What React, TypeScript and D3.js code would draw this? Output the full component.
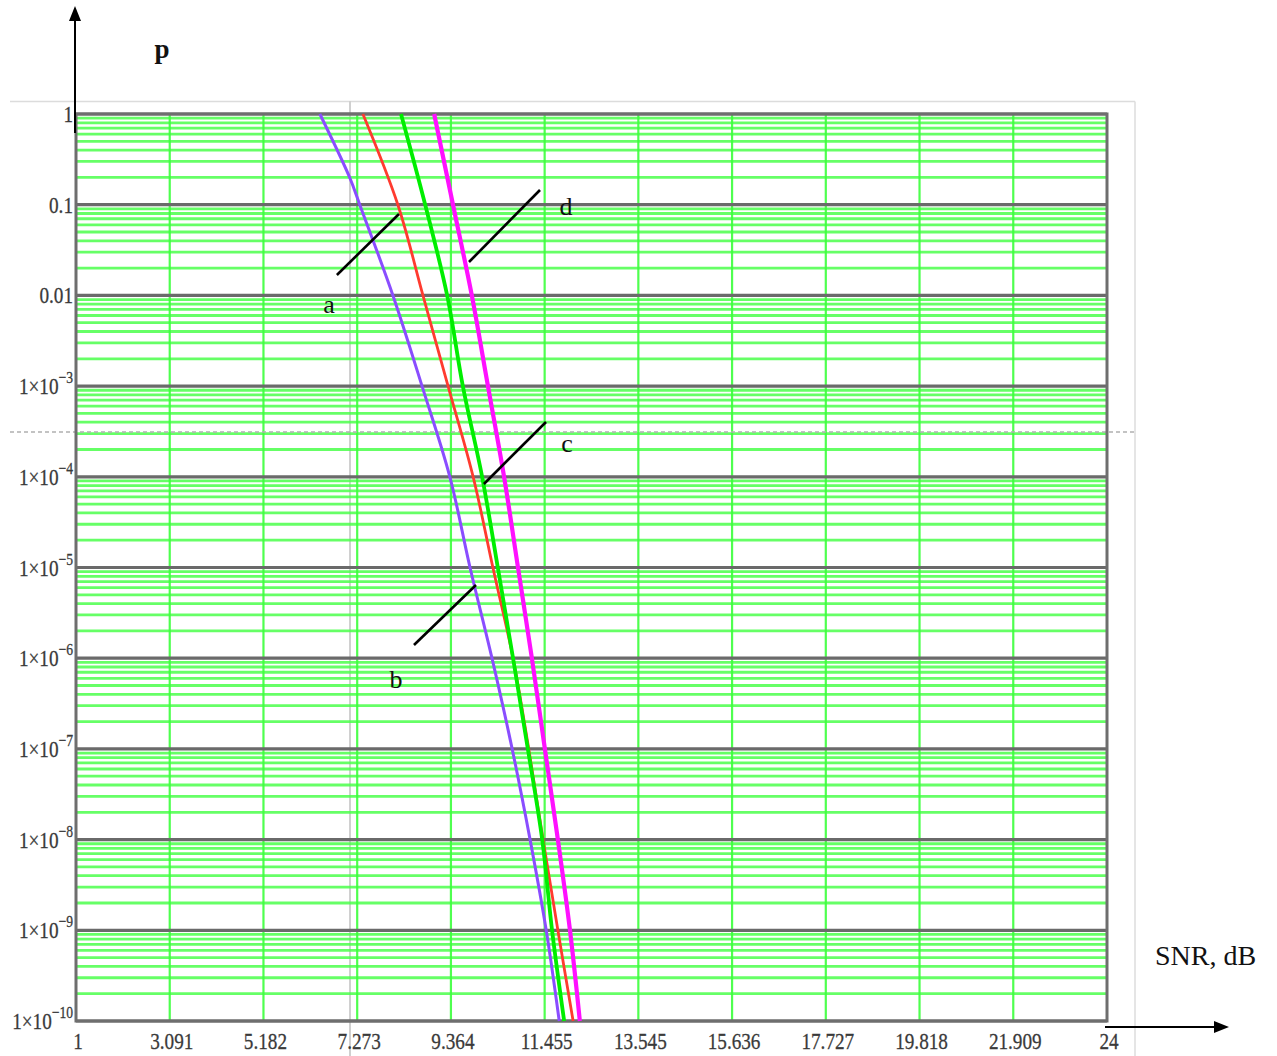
import React from "react";
import * as d3 from "d3";

// ---- data ----
const xTickValues = [1, 3.091, 5.182, 7.273, 9.364, 11.455, 13.545, 15.636, 17.727, 19.818, 21.909, 24];
const xTickLabels = ["1", "3.091", "5.182", "7.273", "9.364", "11.455", "13.545", "15.636", "17.727", "19.818", "21.909", "24"];
const decadeExponents = [0, -1, -2, -3, -4, -5, -6, -7, -8, -9, -10];
const yTickBase = ["1", "0.1", "0.01", "1×10", "1×10", "1×10", "1×10", "1×10", "1×10", "1×10", "1×10"];
const yTickSup = ["", "", "", "−3", "−4", "−5", "−6", "−7", "−8", "−9", "−10"];

const pLevels = [1, 1e-1, 1e-2, 1e-3, 1e-4, 1e-5, 1e-6, 1e-7, 1e-8, 1e-9, 1e-10];
// curve a (red)
const snrA = [7.40, 8.18, 8.74, 9.30, 9.86, 10.30, 10.75, 11.10, 11.42, 11.75, 12.09];
// curve b (purple)
const pB = [1, 0.197, 1e-1, 1e-2, 1e-3, 1e-4, 1e-5, 1e-6, 1e-7, 1e-8, 1e-9, 1e-10];
const snrB = [6.44, 7.11, 7.33, 8.07, 8.72, 9.34, 9.79, 10.28, 10.73, 11.13, 11.49, 11.78];
// curve c (green)
const snrC = [8.25, 8.79, 9.28, 9.63, 10.06, 10.41, 10.75, 11.08, 11.40, 11.62, 11.89];
// curve d (magenta)
const snrD = [8.99, 9.41, 9.83, 10.19, 10.55, 10.86, 11.17, 11.46, 11.75, 12.02, 12.24];

const curveNames = ["a", "b", "c", "d"];
// leader lines in data units: [snr1, log10p1, snr2, log10p2]
const leaderA = [6.82, -1.775, 8.205, -1.1025];
const leaderB = [8.54, -5.854, 9.923, -5.193];
const leaderC = [10.10, -4.079, 11.485, -3.396];
const leaderD = [9.767, -1.632, 11.351, -0.838];
// label anchors [snr, log10p]
const labelPos = [
  [6.644, -2.194],
  [8.139, -6.329],
  [11.953, -3.727],
  [11.931, -1.114],
];

const W = 1277;
const H = 1056;

export default function App() {
  const x = d3.scaleLinear().domain([1, 24]).range([76, 1107]);
  const y = d3.scaleLog().domain([1, 1e-10]).range([114, 1021]);

  const minor: number[] = [];
  decadeExponents.slice(1).forEach((e) => {
    for (let k = 2; k <= 9; k++) minor.push(k * Math.pow(10, e));
  });

  const line = d3
    .line<[number, number]>()
    .x((d) => x(d[0]))
    .y((d) => y(d[1]))
    .curve(d3.curveCatmullRom.alpha(0.5));

  const series = [
    { snr: snrB, p: pB, color: "#8a4dff", w: 3 },
    { snr: snrA, p: pLevels, color: "#ff3b2f", w: 2.8 },
    { snr: snrC, p: pLevels, color: "#00ee00", w: 3.8 },
    { snr: snrD, p: pLevels, color: "#ff10ff", w: 4.2 },
  ];

  const leaders = [leaderA, leaderB, leaderC, leaderD];
  const [x0, x1] = x.range();
  const [y0, y1] = y.range();

  const fontFam = "'Liberation Serif', 'Times New Roman', serif";

  return (
    <svg
      width={W}
      height={H}
      style={{ position: "absolute", left: 0, top: 0, background: "#fff" }}
    >
      <rect x={0} y={0} width={W} height={H} fill="#fff" />
      {/* region outline */}
      <line x1={10} y1={101.5} x2={1135} y2={101.5} stroke="#dcdcdc" strokeWidth={1.5} />
      <line x1={1135} y1={101.5} x2={1135} y2={H} stroke="#dcdcdc" strokeWidth={1.5} />
      <line x1={350} y1={101} x2={350} y2={H} stroke="#d0d0d0" strokeWidth={2} />

      {/* minor horizontal grid */}
      {minor.map((v, i) => (
        <line key={"m" + i} x1={x0} x2={x1} y1={y(v)} y2={y(v)} stroke="#4cff4c" strokeWidth={2.8} opacity={0.85} />
      ))}
      {/* vertical grid */}
      {xTickValues.slice(1, -1).map((v, i) => (
        <line key={"v" + i} x1={x(v)} x2={x(v)} y1={y0} y2={y1} stroke="#3cff3c" strokeWidth={2.2} opacity={0.9} />
      ))}
      {/* dashed region separator */}
      <line x1={10} y1={432} x2={1135} y2={432} stroke="#b0b0b0" strokeWidth={1.5} strokeDasharray="4 3" />
      {/* decade lines */}
      {decadeExponents.map((e) => (
        <line key={"d" + e} x1={x0} x2={x1} y1={y(Math.pow(10, e))} y2={y(Math.pow(10, e))} stroke="#6a6a6a" strokeWidth={3.2} />
      ))}
      {/* border */}
      <rect x={x0} y={y0} width={x1 - x0} height={y1 - y0} fill="none" stroke="#6e6e6e" strokeWidth={3} />

      {/* curves */}
      {series.map((s, i) => (
        <path
          key={"c" + i}
          d={line(s.snr.map((v, j) => [v, s.p[j]] as [number, number])) || ""}
          fill="none"
          stroke={s.color}
          strokeWidth={s.w}
          strokeLinejoin="round"
        />
      ))}

      {/* leaders */}
      {leaders.map((l, i) => (
        <line
          key={"l" + i}
          x1={x(l[0])}
          y1={y(Math.pow(10, l[1]))}
          x2={x(l[2])}
          y2={y(Math.pow(10, l[3]))}
          stroke="#000"
          strokeWidth={2.6}
        />
      ))}
      {labelPos.map((p, i) => (
        <text
          key={"t" + i}
          x={x(p[0])}
          y={y(Math.pow(10, p[1]))}
          textAnchor="middle"
          fontFamily={fontFam}
          fontSize={26}
          fill="#111"
        >
          {curveNames[i]}
        </text>
      ))}

      {/* y tick labels */}
      {decadeExponents.map((e, i) => (
        <g key={"yt" + i} transform={`translate(73,${y(Math.pow(10, e)) + 8}) scale(0.8,1)`}>
          <text textAnchor="end" fontFamily={fontFam} fontSize={24} fill="#3a3a3a" stroke="#3a3a3a" strokeWidth={0.3}>
            {yTickBase[i]}
            {yTickSup[i] ? (
              <tspan fontSize={17} dy={-11}>
                {yTickSup[i]}
              </tspan>
            ) : null}
          </text>
        </g>
      ))}
      {/* x tick labels */}
      {xTickValues.map((v, i) => (
        <g key={"xt" + i} transform={`translate(${x(v) + 2},${1049}) scale(0.8,1)`}>
          <text textAnchor="middle" fontFamily={fontFam} fontSize={24} fill="#3a3a3a" stroke="#3a3a3a" strokeWidth={0.3}>
            {xTickLabels[i]}
          </text>
        </g>
      ))}

      {/* axis arrows */}
      <line x1={75} y1={18} x2={75} y2={133} stroke="#000" strokeWidth={2} />
      <path d="M75,6 L69,21 L81,21 Z" fill="#000" />
      <line x1={1105} y1={1027} x2={1216} y2={1027} stroke="#000" strokeWidth={2} />
      <path d="M1229,1027 L1214,1021 L1214,1033 Z" fill="#000" />

      {/* axis titles */}
      <text x={162} y={58} textAnchor="middle" fontFamily={fontFam} fontSize={27} fontWeight="bold" fill="#111">
        p
      </text>
      <text x={1155} y={965} fontFamily={fontFam} fontSize={28} fill="#111">
        SNR, dB
      </text>
    </svg>
  );
}
